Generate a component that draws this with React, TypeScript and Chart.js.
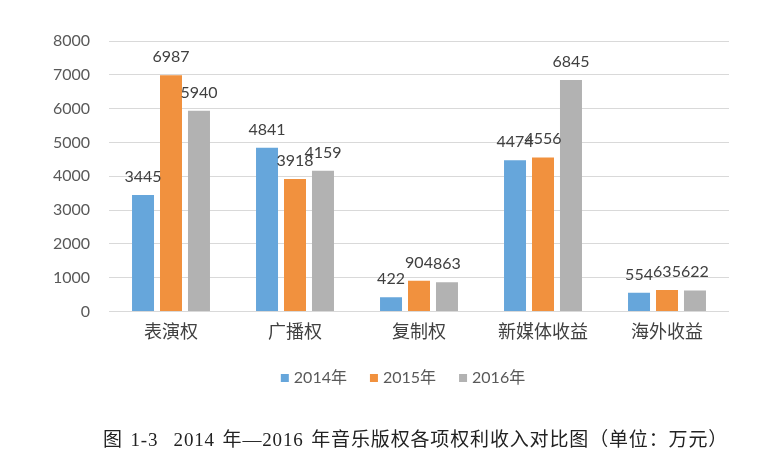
import React, { useEffect, useRef } from "react";
import { Chart, registerables } from "chart.js";

Chart.register(...registerables);

const categories = ["表演权", "广播权", "复制权", "新媒体收益", "海外收益"];
const seriesNames = ["2014年", "2015年", "2016年"];
const values2014 = [3445, 4841, 422, 4474, 554];
const values2015 = [6987, 3918, 904, 4556, 635];
const values2016 = [5940, 4159, 863, 6845, 622];
const colors = ["#66A6DB", "#F1913E", "#B2B2B2"];
const yMax = 8000;
const yStep = 1000;
const caption = "图 1-3  2014 年—2016 年音乐版权各项权利收入对比图（单位：万元）";

const FONT = "Lato, 'Noto Sans CJK SC', sans-serif";

const dataLabels = {
  id: "dataLabels",
  afterDatasetsDraw(chart: any) {
    const ctx = chart.ctx;
    ctx.save();
    ctx.font = `16px ${FONT}`;
    ctx.fillStyle = "#404040";
    ctx.textAlign = "center";
    ctx.textBaseline = "alphabetic";
    chart.data.datasets.forEach((ds: any, i: number) => {
      const meta = chart.getDatasetMeta(i);
      meta.data.forEach((el: any, j: number) => {
        ctx.fillText(String(ds.data[j]), el.x, el.y - 13);
      });
    });
    ctx.restore();
  },
};

const bottomLegend = {
  id: "bottomLegend",
  afterDraw(chart: any) {
    const ctx = chart.ctx;
    const box = 8;
    const textGap = 13;
    const itemGap = 23;
    const cy = 378;
    const centerX = 403;
    ctx.save();
    ctx.font = `16px ${FONT}`;
    const items = chart.data.datasets.map((ds: any) => ({
      label: ds.label,
      color: ds.backgroundColor,
      w: textGap + ctx.measureText(ds.label).width,
    }));
    const total = items.reduce((a: number, it: any) => a + it.w, 0) + itemGap * (items.length - 1);
    let x = centerX - total / 2;
    ctx.textBaseline = "middle";
    ctx.textAlign = "left";
    items.forEach((it: any) => {
      ctx.fillStyle = it.color;
      ctx.fillRect(x, cy - box / 2, box, box);
      ctx.fillStyle = "#595959";
      ctx.fillText(it.label, x + textGap, cy);
      x += it.w + itemGap;
    });
    ctx.restore();
  },
};

export default function App() {
  const ref = useRef<HTMLCanvasElement>(null);
  useEffect(() => {
    if (!ref.current) return;
    const chart = new Chart(ref.current, {
      type: "bar",
      data: {
        labels: categories,
        datasets: [values2014, values2015, values2016].map((d, i) => ({
          label: seriesNames[i],
          data: d,
          backgroundColor: colors[i],
          borderWidth: 0,
          categoryPercentage: 0.677,
          barPercentage: 0.786,
        })),
      },
      options: {
        animation: false,
        responsive: false,
        devicePixelRatio: 1,
        layout: { padding: { top: 41, right: 51, bottom: 109, left: 0 } },
        plugins: {
          legend: { display: false },
          tooltip: { enabled: false },
        },
        scales: {
          x: {
            grid: { display: false },
            border: { display: false },
            ticks: { color: "#404040", padding: 2, font: { size: 18, family: FONT } },
          },
          y: {
            min: 0,
            max: yMax,
            afterFit: (s: any) => {
              s.width = 109;
            },
            grid: { color: "#D9D9D9", drawTicks: false },
            border: { display: false },
            ticks: {
              stepSize: yStep,
              padding: 19,
              color: "#595959",
              font: { size: 16, family: FONT },
              callback: (v: any) => String(v),
            },
          },
        },
      },
      plugins: [dataLabels, bottomLegend],
    });
    return () => chart.destroy();
  }, []);
  return (
    <div style={{ position: "absolute", left: 0, top: 0, width: 780, height: 456, background: "#fff" }}>
      <canvas ref={ref} width={780} height={454} style={{ position: "absolute", left: 0, top: 0 }} />
      <div
        style={{
          position: "absolute",
          left: 103,
          top: 428,
          whiteSpace: "pre",
          fontFamily: "'Liberation Serif', 'Noto Sans CJK SC', serif",
          fontSize: 19,
          wordSpacing: 2,
          letterSpacing: 0.85,
          color: "#222",
          lineHeight: "24px",
        }}
      >
        {caption}
      </div>
    </div>
  );
}
